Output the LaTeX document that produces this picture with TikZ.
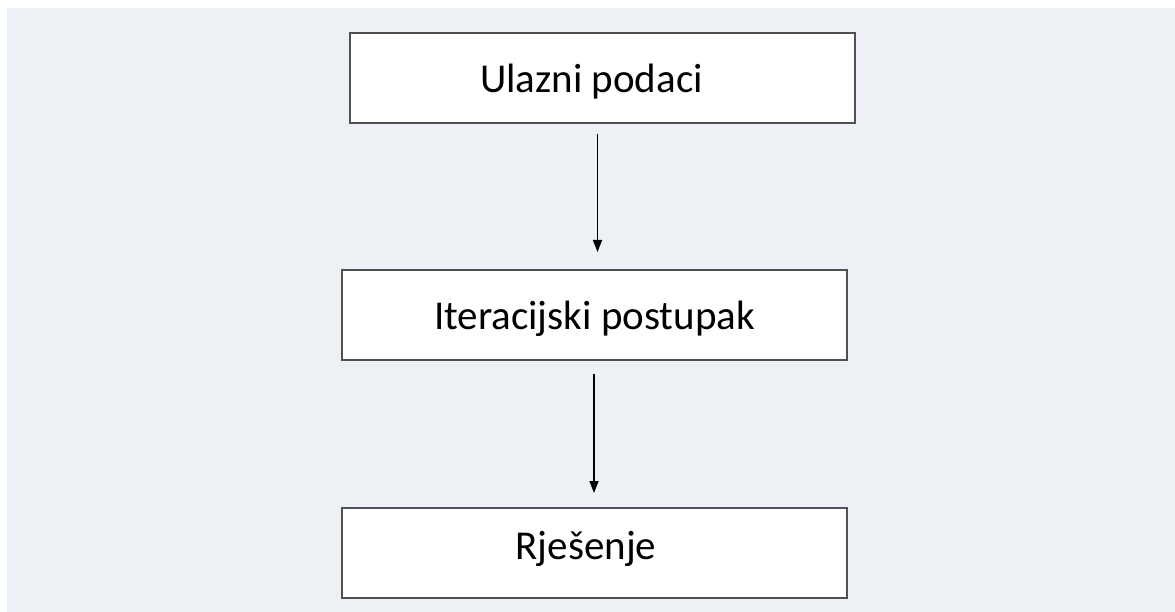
\documentclass[tikz,border=0pt]{standalone}
\usepackage{fontspec}
\setmainfont{Carlito}
\usetikzlibrary{arrows.meta}
\definecolor{bgcol}{HTML}{EDF0F5}
\definecolor{boxline}{HTML}{505050}
\begin{document}
\begin{tikzpicture}[x=1pt,y=-1pt,
  stepbox/.style={draw=boxline,line width=2pt,fill=white,minimum width=505pt,minimum height=90pt,inner sep=0pt,text height=40pt,text depth=10pt,font=\fontsize{41}{49}\selectfont},
  flow/.style={line width=1.4pt,-{Triangle[width=9pt,length=12pt]}}]
\useasboundingbox (0,0) rectangle (1175,612);
\fill[bgcol] (7,8) rectangle (1175,612);
\node[stepbox] (a) at (602.5,78) {\hspace*{-22pt}Ulazni podaci};
\node[stepbox] (b) at (594.5,315) {Iteracijski postupak};
\node[stepbox,text height=30pt,text depth=17pt] (c) at (594.5,552.5) {\hspace*{-17pt}Rješenje};
\coordinate (a1) at (597.5,134);
\coordinate (a2) at (597.5,252);
\coordinate (b1) at (594,374);
\coordinate (b2) at (594,493);
\draw[flow] (a1) -- (a2);
\draw[flow] (b1) -- (b2);
\end{tikzpicture}
\end{document}
